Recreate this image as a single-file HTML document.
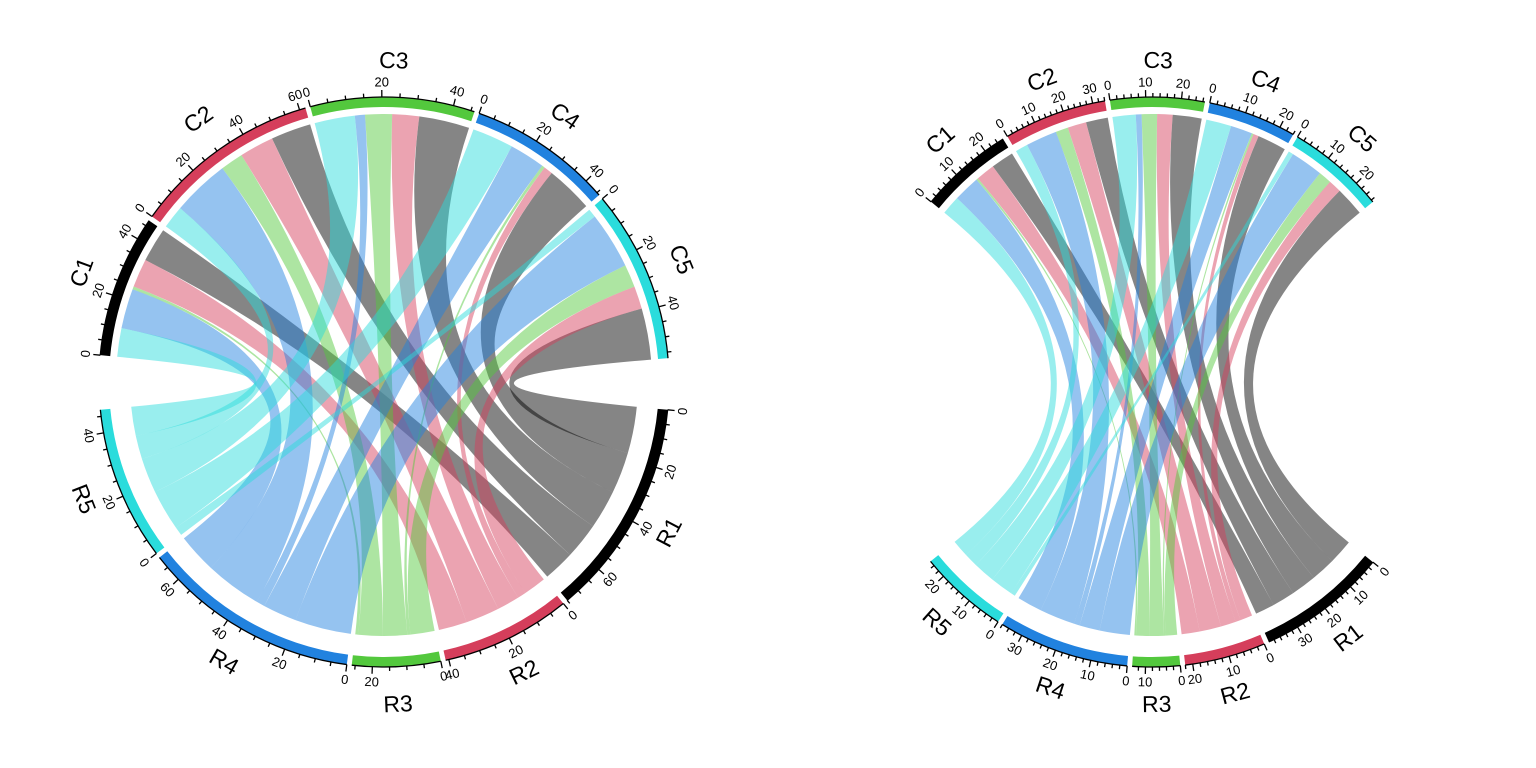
<!DOCTYPE html>
<html><head><meta charset="utf-8"><style>
html,body{margin:0;padding:0;background:#fff;}
svg{display:block;font-family:"Liberation Sans",Arial,sans-serif;}
</style></head><body>
<svg id="s" width="1536" height="768" viewBox="0 0 1536 768" xmlns="http://www.w3.org/2000/svg"></svg>
<script>
const NS="http://www.w3.org/2000/svg";
const svg=document.getElementById('s');
const trackCol=['#000000','#D53E5B','#53C83D','#2182DF','#2ADCDC'];
const linkCol=['#000000','#D53E5B','#53C83D','#2182DF','#2ADCDC'];
const M=[[12,14,15,16,18],[10,12,8,3,8],[1,8,8,1,8],[14,20,3,12,20],[10,8,12,14,3]];
function el(t,a,p){const e=document.createElementNS(NS,t);for(const k in a)e.setAttribute(k,a[k]);(p||svg).appendChild(e);return e;}
function chart(cx,cy,C,R,scale,minor,lab,cadj){
  const rOut=285,rIn=275,rC=268,rR=254;
  const m=M.map(r=>r.map((v,j)=>v*scale*(cadj?cadj[j]:1)));
  const P=(a,r)=>[cx+r*Math.cos(a*Math.PI/180),cy-r*Math.sin(a*Math.PI/180)];
  const colSum=[0,1,2,3,4].map(j=>m.reduce((s,r)=>s+r[j],0));
  const rowSum=m.map(r=>r.reduce((a,b)=>a+b,0));
  const cPos={},rPos={};
  for(let j=0;j<5;j++){const [s,e]=C[j];const d=(s-e)/colSum[j];let a=s;
    for(let i=4;i>=0;i--){cPos[i+','+j]=[a,a-m[i][j]*d];a-=m[i][j]*d;}}
  for(let i=0;i<5;i++){const [s,e]=R[i];const d=(s-e)/rowSum[i];let a=s;
    for(let j=4;j>=0;j--){rPos[i+','+j]=[a,a-m[i][j]*d];a-=m[i][j]*d;}}
  const g=el('g',{});
  for(let i=0;i<5;i++)for(let j=0;j<5;j++){
    const [a1,a2]=rPos[i+','+j],[b1,b2]=cPos[i+','+j];
    const p1=P(a1,rR),p2=P(a2,rR),q1=P(b1,rC),q2=P(b2,rC);
    const d=`M${p1} A${rR},${rR} 0 0 1 ${p2} Q${cx},${cy} ${q1} A${rC},${rC} 0 0 1 ${q2} Q${cx},${cy} ${p1}Z`;
    el('path',{d:d,fill:linkCol[i],'fill-opacity':0.48,stroke:'none'},g);
  }
  function sector(s,e,total,col,name,bottom){
    const a=P(s,rOut),b=P(e,rOut),c=P(e,rIn),d=P(s,rIn);
    el('path',{d:`M${a} A${rOut},${rOut} 0 0 1 ${b} L${c} A${rIn},${rIn} 0 0 0 ${d}Z`,fill:col});
    el('path',{d:`M${a} A${rOut},${rOut} 0 0 1 ${b}`,fill:'none',stroke:'#000','stroke-width':1.3});
    const dpu=(s-e)/total;
    for(let u=0;u<=total+1e-6;u+=minor){
      const ang=s-u*dpu;const big=Math.abs(u/lab-Math.round(u/lab))<1e-6;
      const p=P(ang,rOut),q=P(ang,rOut+(big?7:4));
      el('line',{x1:p[0],y1:p[1],x2:q[0],y2:q[1],stroke:'#000','stroke-width':1.3});
      if(big){const t=P(ang,rOut+15);const rot=bottom?(-90-ang):(90-ang);
        const tx=el('text',{x:t[0],y:t[1],'font-size':13,'text-anchor':'middle','dominant-baseline':'central',transform:`rotate(${rot} ${t[0]} ${t[1]})`});tx.textContent=Math.round(u);}
    }
    const mid=(s+e)/2;const t=P(mid,rOut+37);const rot=bottom?(-90-mid):(90-mid);
    const tx=el('text',{x:t[0],y:t[1],'font-size':23,'text-anchor':'middle','dominant-baseline':'central',transform:`rotate(${rot} ${t[0]} ${t[1]})`});tx.textContent=name;
  }
  for(let j=0;j<5;j++)sector(C[j][0],C[j][1],colSum[j],trackCol[j],'C'+(j+1),false);
  for(let i=0;i<5;i++)sector(R[i][0],R[i][1],rowSum[i],trackCol[i],'R'+(i+1),true);
}
chart(384,382,
 [[174.6,145.5],[144.5,106],[105,71.5],[70.5,41],[40,4.8]],
 [[-5.6,-50],[-51,-77.5],[-78.5,-96.5],[-97.5,-142],[-143,-174.4]],1,5,20);
chart(1152,382,
 [[140.8,121.5],[120.5,99.5],[98.5,79.3],[78.3,60.3],[59.3,39.2]],
 [[-39.2,-65.8],[-66.8,-83.3],[-84.3,-94],[-95,-121.7],[-122.7,-141]],0.55,2,10,[1,1,1.05,0.95,0.85]);
</script>
</body></html>
